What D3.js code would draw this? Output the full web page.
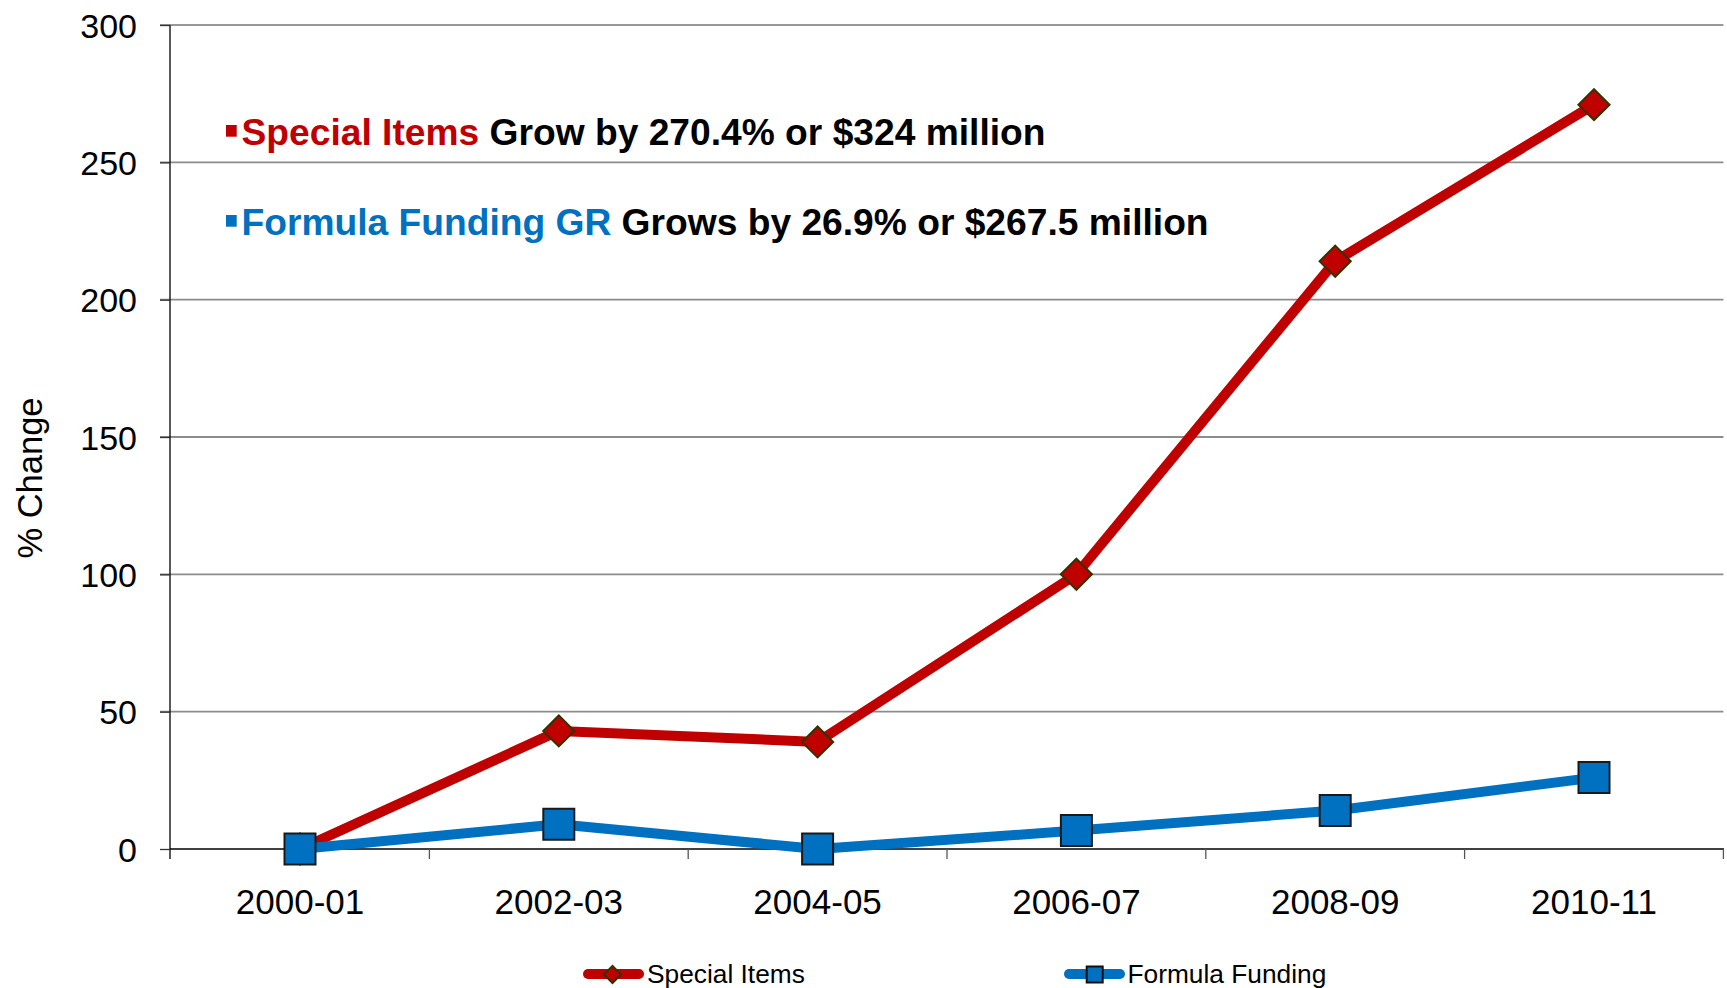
<!DOCTYPE html>
<html>
<head>
<meta charset="utf-8">
<script src="https://cdn.jsdelivr.net/npm/d3@7"></script>
<style>
  html, body { margin: 0; padding: 0; background: #fff; }
  svg { display: block; font-family: "Liberation Sans", Arial, sans-serif; }
</style>
</head>
<body>
<svg id="chart" width="1727" height="988"></svg>
<script>
// ---- data ----
const categories = ["2000-01", "2002-03", "2004-05", "2006-07", "2008-09", "2010-11"];
const specialItems = [0, 43, 39, 100, 214, 271];
const formulaFunding = [0, 9, 0, 6.7, 14, 26];
const yTicks = [0, 50, 100, 150, 200, 250, 300];
const seriesNames = ["Special Items", "Formula Funding"];
const yAxisTitle = "% Change";
const note1 = ["Special Items", " Grow by 270.4% or $324 million"];
const note2 = ["Formula Funding GR", " Grows by 26.9% or $267.5 million"];

(function () {
const RED = "#C00000", BLUE = "#0070C0";

const svg = d3.select("#chart");
const pLeft = 170.6, pRight = 1723.4, pTop = 25, pBottom = 849;

const x = d3.scaleBand().domain(categories).range([pLeft, pRight]).padding(0);
const y = d3.scaleLinear().domain([0, 300]).range([pBottom, pTop]);
const cx = c => x(c) + x.bandwidth() / 2;

// gridlines
svg.append("g").selectAll("line").data(yTicks.filter(t => t > 0)).join("line")
  .attr("x1", 160).attr("x2", pRight)
  .attr("y1", d => y(d)).attr("y2", d => y(d))
  .attr("stroke", d => d === 300 ? "#333" : "#8c8c8c")
  .attr("stroke-width", d => d === 300 ? 1.2 : 1.8);

// y axis
const yAxis = svg.append("g").attr("transform", `translate(${170},0)`)
  .call(d3.axisLeft(y).tickValues(yTicks).tickSize(10).tickPadding(23).tickFormat(d3.format("d")));
yAxis.select(".domain").attr("d", `M0,${pTop}V${pBottom + 10}`).attr("stroke", "#000").attr("stroke-width", 1.3);
yAxis.selectAll(".tick line").attr("stroke", "#333").attr("stroke-width", 1.3);
yAxis.selectAll(".tick text").attr("font-size", 34).attr("fill", "#000").attr("dy", "0.36em")
  .attr("font-family", "'Liberation Sans', Arial, sans-serif");

// x axis line + ticks at band boundaries
svg.append("line").attr("x1", 170).attr("x2", pRight + 0.6).attr("y1", pBottom).attr("y2", pBottom)
  .attr("stroke", "#000").attr("stroke-width", 1.5);
const bounds = categories.map(c => x(c)).slice(1).concat([pRight]);
svg.append("g").selectAll("line").data(bounds).join("line")
  .attr("x1", d => d).attr("x2", d => d).attr("y1", pBottom).attr("y2", pBottom + 10)
  .attr("stroke", "#555").attr("stroke-width", 1.3);
svg.append("g").selectAll("text").data(categories).join("text")
  .attr("x", d => cx(d)).attr("y", 914).attr("text-anchor", "middle")
  .attr("font-size", 35).attr("fill", "#000").text(d => d);

// y axis title
svg.append("text").attr("transform", "translate(42,478) rotate(-90)")
  .attr("text-anchor", "middle").attr("font-size", 34.5).attr("fill", "#000").text(yAxisTitle);

// lines
const line = d3.line().x((d, i) => cx(categories[i])).y(d => y(d));
const diamond = d3.symbol(d3.symbolSquare, 22 * 22);
const square = d3.symbol(d3.symbolSquare, 31 * 31);

svg.append("path").datum(specialItems).attr("d", line)
  .attr("fill", "none").attr("stroke", RED).attr("stroke-width", 10).attr("stroke-linejoin", "round");
svg.append("g").selectAll("path").data(specialItems).join("path")
  .attr("d", diamond)
  .attr("transform", (d, i) => `translate(${cx(categories[i])},${y(d)}) rotate(45)`)
  .attr("fill", RED).attr("stroke", "#333300").attr("stroke-width", 2);

svg.append("path").datum(formulaFunding).attr("d", line)
  .attr("fill", "none").attr("stroke", BLUE).attr("stroke-width", 10).attr("stroke-linejoin", "round");
svg.append("g").selectAll("path").data(formulaFunding).join("path")
  .attr("d", square)
  .attr("transform", (d, i) => `translate(${cx(categories[i])},${y(d)})`)
  .attr("fill", BLUE).attr("stroke", "#1a1a1a").attr("stroke-width", 2);

// annotations
function note(parts, color, baseline) {
  svg.append("rect").attr("x", 226).attr("y", baseline - 20).attr("width", 10.7).attr("height", 11.7).attr("fill", color);
  const t = svg.append("text").attr("x", 241.5).attr("y", baseline)
    .attr("font-size", 37.2).attr("font-weight", "bold");
  t.append("tspan").attr("fill", color).text(parts[0]);
  t.append("tspan").attr("fill", "#000").text(parts[1]);
}
note(note1, RED, 145);
note(note2, BLUE, 235);

// legend
const legend = [
  { name: seriesNames[0], color: RED, x1: 583, x2: 644, mx: 612.5, sym: d3.symbol(d3.symbolSquare, 12 * 12), rot: 45, stroke: "#333300", tx: 647 },
  { name: seriesNames[1], color: BLUE, x1: 1064, x2: 1125, mx: 1094.7, sym: d3.symbol(d3.symbolSquare, 16 * 16), rot: 0, stroke: "#111", tx: 1127.5 }
];
const lg = svg.append("g").selectAll("g").data(legend).join("g");
lg.append("line").attr("x1", d => d.x1 + 5).attr("x2", d => d.x2 - 5).attr("y1", 974).attr("y2", 974)
  .attr("stroke", d => d.color).attr("stroke-width", 10).attr("stroke-linecap", "round");
lg.append("path").attr("d", d => d.sym())
  .attr("transform", d => `translate(${d.mx},974.5) rotate(${d.rot})`)
  .attr("fill", d => d.color).attr("stroke", d => d.stroke).attr("stroke-width", 2);
lg.append("text").attr("x", d => d.tx).attr("y", 982.5).attr("font-size", 26.3).attr("fill", "#000")
  .text(d => d.name);
})();
</script>
</body>
</html>
